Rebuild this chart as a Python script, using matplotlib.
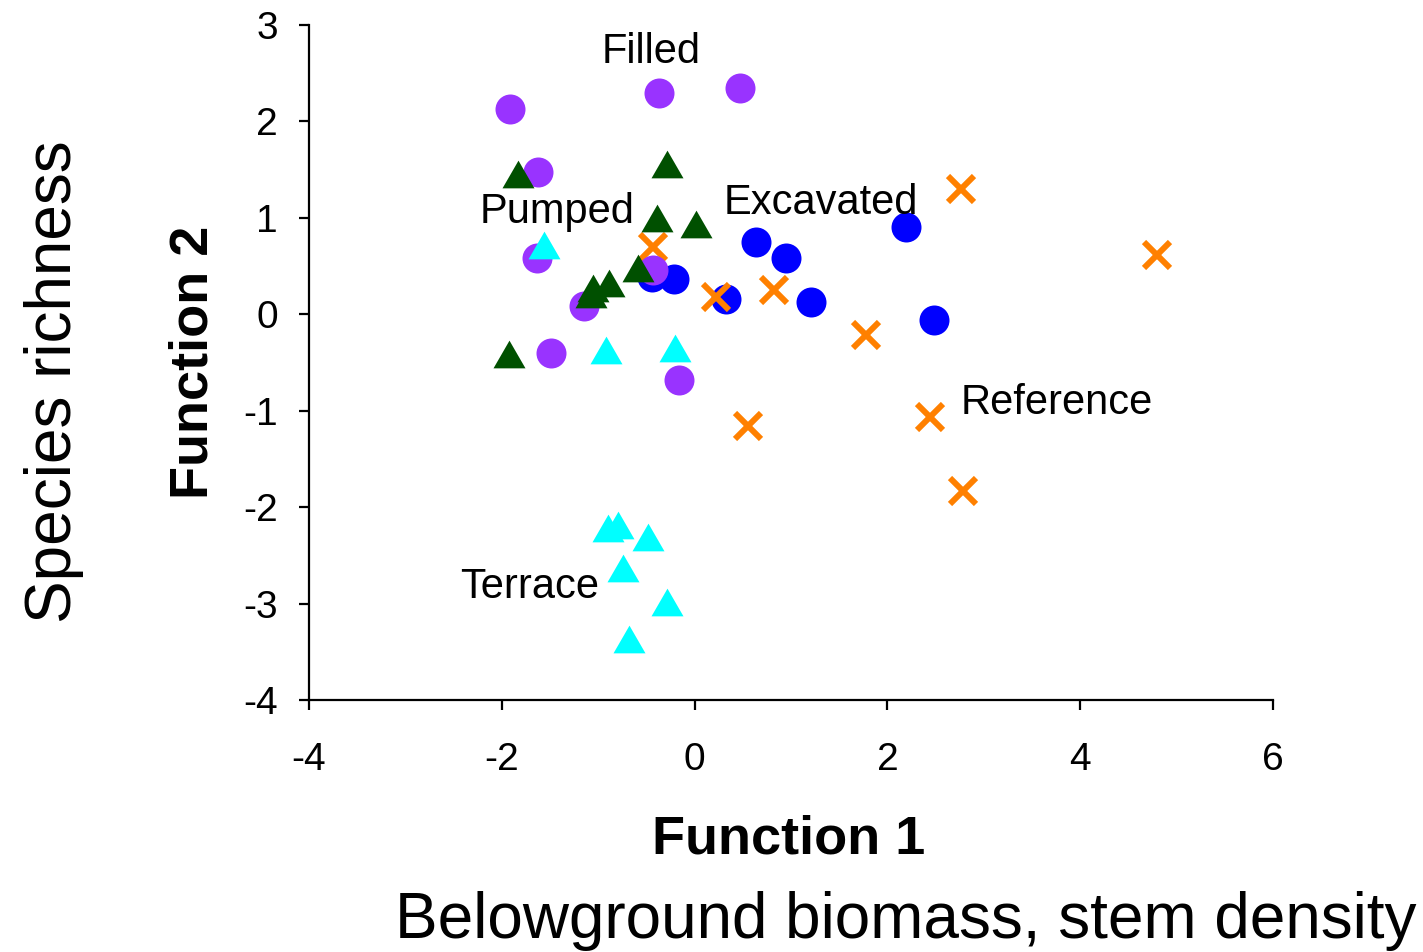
import matplotlib
matplotlib.use("Agg")
import matplotlib.pyplot as plt
from matplotlib import font_manager as fm
import numpy as np

plt.rcParams['font.family'] = ['Liberation Sans', 'DejaVu Sans']
plt.rcParams['axes.unicode_minus'] = False

# ---- data (Function 1, Function 2) ----
filled_x = [-1.92, -0.37, 0.47, -1.62, -1.64, -0.43, -1.15, -1.49, -0.16]
filled_y = [2.13, 2.30, 2.35, 1.48, 0.58, 0.46, 0.09, -0.40, -0.68]

pumped_x = [-1.83, -0.29, -0.39, 0.01, -0.59, -0.89, -1.05, -1.07, -1.93]
pumped_y = [1.45, 1.56, 1.00, 0.94, 0.48, 0.32, 0.27, 0.21, -0.41]

terrace_x = [-1.56, -0.92, -0.20, -0.90, -0.79, -0.48, -0.74, -0.29, -0.68]
terrace_y = [0.72, -0.37, -0.35, -2.22, -2.19, -2.31, -2.63, -2.98, -3.37]

excavated_x = [-0.44, -0.21, 0.33, 0.64, 0.95, 1.21, 2.19, 2.48]
excavated_y = [0.39, 0.37, 0.16, 0.75, 0.58, 0.13, 0.91, -0.06]

reference_x = [-0.43, 0.22, 0.82, 1.78, 0.55, 2.44, 2.76, 4.80, 2.78]
reference_y = [0.70, 0.18, 0.25, -0.21, -1.16, -1.07, 1.30, 0.62, -1.83]

group_names = ["Filled", "Pumped", "Excavated", "Reference", "Terrace"]
label_x = [-0.446, -1.425, 1.31, 3.76, -1.71]
label_y = [2.61, 0.944, 1.037, -1.030, -2.946]

x_ticks = [-4, -2, 0, 2, 4, 6]
y_ticks = [-4, -3, -2, -1, 0, 1, 2, 3]

W, H = 1423, 952
fig = plt.figure(figsize=(W / 100, H / 100), dpi=100)
ax = fig.add_axes([309 / W, 1 - 700 / H, (1273 - 309) / W, (700 - 25) / H])

tri = [(-1, -0.866), (1, -0.866), (0, 0.866)]
px = 0.72  # points per pixel

ax.plot(excavated_x, excavated_y, 'o', ls='none', color='#0000FF', ms=30 * px, mew=0, zorder=2)
ax.plot(reference_x, reference_y, 'x', ls='none', color='#FF8000', ms=27 * px, mew=6 * px, zorder=3)
ax.plot(filled_x, filled_y, 'o', ls='none', color='#9933FF', ms=30 * px, mew=0, zorder=4)
ax.plot(pumped_x, pumped_y, marker=tri, ls='none', color='#005000', ms=32 * px, mew=0, zorder=5)
ax.plot(terrace_x, terrace_y, marker=tri, ls='none', color='#00FFFF', ms=32 * px, mew=0, zorder=6)

for name, lx, ly in zip(group_names, label_x, label_y):
    ax.text(lx, ly, name, ha='center', va='baseline', fontsize=30, zorder=7)

ax.set_xlim(-4, 6)
ax.set_ylim(-4, 3)
ax.set_xticks(x_ticks)
ax.set_yticks(y_ticks)
for s in ['top', 'right']:
    ax.spines[s].set_visible(False)
for s in ['left', 'bottom']:
    ax.spines[s].set_linewidth(1.6)
ax.tick_params(axis='both', direction='out', length=7.5, width=1.6, labelsize=28)
ax.tick_params(axis='x', pad=23)
ax.tick_params(axis='y', pad=15)
ax.patch.set_visible(False)

fig.text(789 / W, 1 - 853 / H, "Function 1", ha='center', va='baseline',
         fontsize=39, fontweight='bold')
fig.text(207 / W, 1 - 362 / H, "Function 2", ha='center', va='baseline',
         fontsize=39, fontweight='bold', rotation=90, rotation_mode='anchor')

# narrow font for the outer labels
narrow = None
for fam in ['Liberation Sans Narrow', 'Arial Narrow']:
    try:
        fm.findfont(fm.FontProperties(family=fam), fallback_to_default=False)
        narrow = fam
        break
    except Exception:
        pass
if narrow:
    fp = dict(family=[narrow, 'DejaVu Sans'], fontsize=55)
else:
    fp = dict(family=['Liberation Sans', 'DejaVu Sans'], fontsize=46)

fig.text(906 / W, 1 - 938 / H, "Belowground biomass, stem density", ha='center',
         va='baseline', **fp)
fig.text(71 / W, 1 - 382 / H, "Species richness", ha='center', va='baseline',
         rotation=90, rotation_mode='anchor', **fp)

fig.savefig("out.png", dpi=100)
